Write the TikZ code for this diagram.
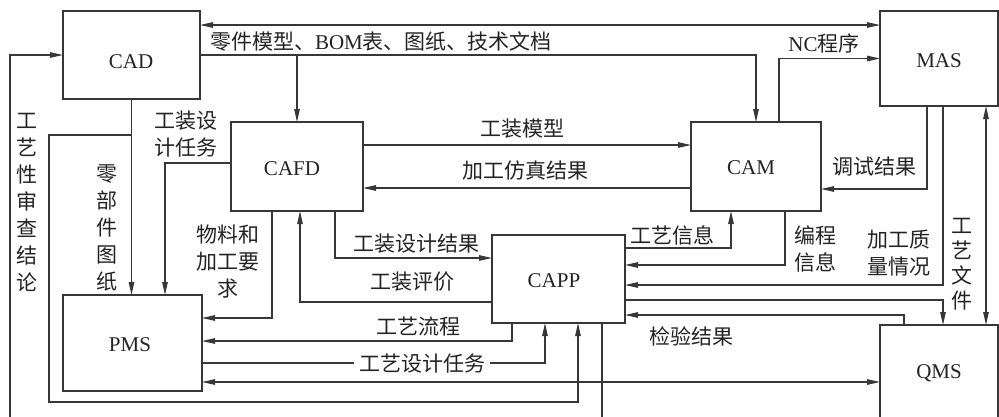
\documentclass[tikz,border=0pt]{standalone}
\usepackage{fontspec}
\setmainfont{Liberation Serif}
\newfontfamily\cjk{Noto Sans CJK SC}
\usetikzlibrary{arrows.meta}
\newcommand\zh[1]{{\cjk #1}}
\definecolor{lc}{RGB}{55,55,55}
\definecolor{tc}{RGB}{35,35,35}
\begin{document}
\begin{tikzpicture}[x=1pt,y=-1pt,
  box/.style={draw=lc,line width=1.2pt,inner sep=0pt,outer sep=0pt},
  ln/.style={draw=lc,line width=1.1pt},
  arr/.style={ln,-{Triangle[length=13pt,width=5.5pt]}},
  barr/.style={ln,{Triangle[length=13pt,width=5.5pt]}-{Triangle[length=13pt,width=5.5pt]}},
  nm/.style={text=tc,font=\fontsize{21}{25}\selectfont,inner sep=0pt},
  lb/.style={text=tc,font=\fontsize{21}{27}\selectfont,inner sep=0pt,align=center},
  vl/.style={text=tc,font=\cjk\fontsize{21}{27}\selectfont,inner sep=0pt,align=center},
]
\useasboundingbox (0,0) rectangle (999,416);
\clip (0,0) rectangle (999,416);

% boxes
\node[box,minimum width=137pt,minimum height=88pt] (cad) at (131.5,55) {};
\node[box,minimum width=132pt,minimum height=89pt] (cafd) at (297,166.5) {};
\node[box,minimum width=130pt,minimum height=89pt] (cam) at (756,166.5) {};
\node[box,minimum width=118pt,minimum height=95pt] (mas) at (939,58.5) {};
\node[box,minimum width=133pt,minimum height=88pt] (capp) at (558.5,279) {};
\node[box,minimum width=139pt,minimum height=96pt] (pms) at (132.5,343) {};
\node[box,minimum width=118pt,minimum height=96pt] (qms) at (939,373) {};

% box names
\node[nm] (cadt) at (131,62) {CAD};
\node[nm] (cafdt) at (292,169) {CAFD};
\node[nm] (camt) at (751,168) {CAM};
\node[nm] (mast) at (939,61) {MAS};
\node[nm] (cappt) at (554,281) {CAPP};
\node[nm] (pmst) at (130,345) {PMS};
\node[nm] (qmst) at (939,373) {QMS};

% connectors
\draw[barr] (cad.east |- 0,25) -- (mas.west |- 0,25);
\draw[arr] (cad.east) -| (cam.north);
\draw[arr] (cad.east -| cafd.north) -- (cafd.north);
\draw[arr] (cam.north -| 779,0) |- (mas.west);
\draw[arr] (cafd.east |- 0,145) -- (cam.west |- 0,145);
\draw[arr] (cam.west |- 0,188) -- (cafd.east |- 0,188);
\draw[arr] (cafd.west |- 0,163) -| (pms.north -| 165,0);
\draw[arr] (cad.south) -- (cad.south |- pms.north);
\coordinate (jn) at (cad.south |- 0,135);
\draw[arr] (jn) -- (49,135) -- (49,402) -| (capp.south -| 578,0);
\coordinate (lend) at (10,420);
\draw[arr] (lend) |- (cad.west);
\coordinate (bend) at (602,420);
\draw[ln] (capp.south -| 602,0) -- (bend);
\draw[arr] (cafd.south -| 272,0) |- (pms.east |- 0,318);
\draw[arr] (cafd.south -| 335,0) |- (capp.west |- 0,258);
\draw[arr] (capp.west |- 0,302) -| (cafd.south -| 300,0);
\draw[arr] (capp.south -| 512,0) |- (pms.east |- 0,341);
\draw[arr] (pms.east |- 0,363) -| (capp.south -| 545,0);
\draw[barr] (pms.east |- 0,382) -- (qms.west |- 0,382);
\draw[arr] (capp.east |- 0,248) -| (cam.south -| 731,0);
\draw[arr] (cam.south -| 785,0) |- (capp.east |- 0,265);
\draw[arr] (mas.south -| 927,0) |- (cam.east |- 0,189);
\draw[arr] (mas.south -| 943,0) |- (capp.east |- 0,285);
\draw[arr] (capp.east |- 0,300) -| (qms.north -| 943,0);
\draw[arr] (qms.north -| 904,0) |- (capp.east |- 0,315);
\draw[barr] (mas.south -| 986,0) -- (qms.north -| 986,0);

% labels
\node[lb] (l1) at (381,42) {\zh{零件模型、}BOM\zh{表、图纸、技术文档}};
\node[lb] (l2) at (824,43) {NC\zh{程序}};
\node[lb] (l3) at (522,129) {\zh{工装模型}};
\node[lb] (l4) at (525,171) {\zh{加工仿真结果}};
\node[vl] (l5) at (186,134.5) {工装设\\计任务};
\node[vl] (l6) at (228,261.5) {物料和\\加工要\\求};
\node[vl] (l7) at (107,227.5) {零\\部\\件\\图\\纸};
\node[vl] (l8) at (27,202) {工\\艺\\性\\审\\查\\结\\论};
\node[lb] (l9) at (416,244) {\zh{工装设计结果}};
\node[lb] (l10) at (412,282) {\zh{工装评价}};
\node[lb] (l11) at (418,326) {\zh{工艺流程}};
\node[lb,fill=white,inner xsep=5pt] (l12) at (422,364) {\zh{工艺设计任务}};
\node[lb] (l13) at (672,235) {\zh{工艺信息}};
\node[vl] (l14) at (815,248.5) {编程\\信息};
\node[lb] (l15) at (874,167) {\zh{调试结果}};
\node[vl] (l16) at (899,253.5) {加工质\\量情况};
\node[vl,font=\cjk\fontsize{21}{25}\selectfont] (l17) at (962,264.5) {工\\艺\\文\\件};
\node[lb] (l18) at (691,336) {\zh{检验结果}};
\end{tikzpicture}
\end{document}
